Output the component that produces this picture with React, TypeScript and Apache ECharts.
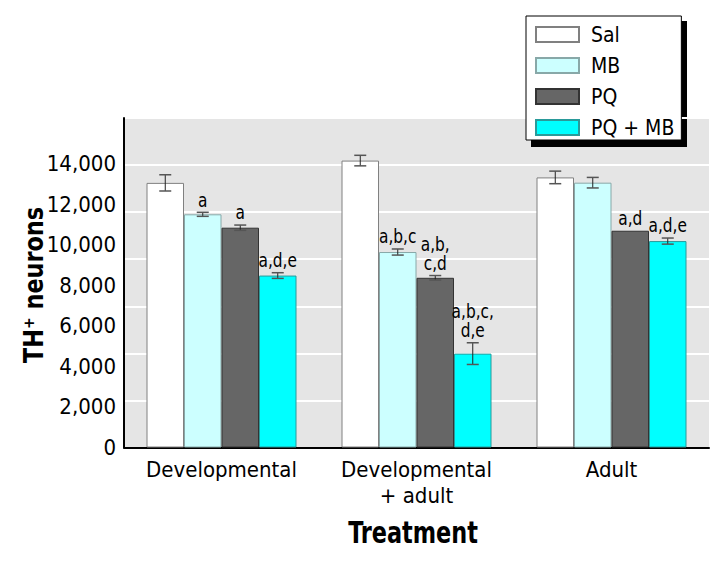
import React, { useEffect, useRef } from "react";
import * as echarts from "echarts";

const categories = ["Developmental", "Developmental\n+ adult", "Adult"];
const seriesNames = ["Sal", "MB", "PQ", "PQ + MB"];
const salValues = [13050, 14150, 13320];
const salErrors = [400, 260, 310];
const mbValues = [11500, 9640, 13060];
const mbErrors = [100, 150, 260];
const pqValues = [10840, 8370, 10690];
const pqErrors = [130, 110, 0];
const pqmbValues = [8480, 4630, 10180];
const pqmbErrors = [140, 535, 150];
const salLabels = ["", "", ""];
const mbLabels = ["a", "a,b,c", ""];
const pqLabels = ["a", "a,b,\nc,d", "a,d"];
const pqmbLabels = ["a,d,e", "a,b,c,\nd,e", "a,d,e"];
const yTicks = [0, 2000, 4000, 6000, 8000, 10000, 12000, 14000];

const FONT = '"Liberation Sans Narrow", "Arial Narrow", "DejaVu Sans Condensed", sans-serif';
const BAR_W = 37.5;

const allValues = [salValues, mbValues, pqValues, pqmbValues];
const allErrors = [salErrors, mbErrors, pqErrors, pqmbErrors];
const allLabels = [salLabels, mbLabels, pqLabels, pqmbLabels];
const fills = ["#ffffff", "#ccffff", "#666666", "#00ffff"];
const borders = ["#808080", "#88a8a8", "#333333", "#2a9a9a"];

export default function App() {
  const ref = useRef<HTMLDivElement>(null);
  useEffect(() => {
    if (!ref.current) return;
    const chart = echarts.init(ref.current, null, { renderer: "svg" });
    const barSeries = seriesNames.map((name, i) => ({
      name,
      type: "bar",
      barWidth: BAR_W,
      barGap: "0%",
      data: allValues[i],
      itemStyle: { color: fills[i], borderColor: borders[i], borderWidth: 1 },
      z: 2,
    }));
    const errSeries = seriesNames.map((name, s) => ({
      type: "custom",
      name: name + " err",
      z: 5,
      data: allValues[s].map((v, ci) => [ci, v, allErrors[s][ci]]),
      renderItem: (params: any, api: any) => {
        const ci = api.value(0);
        const v = api.value(1);
        const e = api.value(2);
        const base = api.coord([ci, v]);
        const x = base[0] + (s - 1.5) * BAR_W;
        const top = api.coord([ci, v + e])[1];
        const bot = api.coord([ci, v - e])[1];
        const children: any[] = [];
        if (e > 0) {
          children.push({ type: "line", shape: { x1: x, y1: top, x2: x, y2: bot }, style: { stroke: "#222", lineWidth: 1 } });
          children.push({ type: "line", shape: { x1: x - 6, y1: top, x2: x + 6, y2: top }, style: { stroke: "#555", lineWidth: 1.5 } });
          children.push({ type: "line", shape: { x1: x - 6, y1: bot, x2: x + 6, y2: bot }, style: { stroke: "#555", lineWidth: 1.5 } });
        }
        const lbl = allLabels[s][params.dataIndex];
        if (lbl) {
          children.push({
            type: "text",
            x,
            y: top - 3,
            scaleX: 0.9,
            style: {
              text: lbl,
              x: 0,
              y: 0,
              align: "center",
              verticalAlign: "bottom",
              fontFamily: FONT,
              fontSize: 19,
              lineHeight: 19,
              fill: "#000",
            },
          });
        }
        return { type: "group", children };
      },
    }));
    chart.setOption({
      animation: false,
      backgroundColor: "#ffffff",
      grid: {
        left: 124,
        right: 17,
        top: 118,
        bottom: 113.5,
        show: true,
        backgroundColor: "#e5e5e5",
        borderWidth: 0,
      },
      legend: {
        data: seriesNames,
        orient: "vertical",
        left: 526,
        top: 16,
        icon: "rect",
        itemWidth: 43,
        itemHeight: 15,
        itemGap: 10,
        padding: [8, 7, 2, 9],
        backgroundColor: "#ffffff",
        borderColor: "#000",
        borderWidth: 1,
        textStyle: { fontFamily: FONT, fontSize: 21, color: "#000", lineHeight: 21, padding: [0, 0, 0, 7] },
        selectedMode: false,
      },
      graphic: [
        { type: "rect", shape: { x: 531, y: 21, width: 156, height: 126 }, style: { fill: "#000" }, z: 0 },
        {
          type: "text",
          x: 413,
          y: 532,
          scaleX: 0.83,
          style: { text: "Treatment", fontFamily: FONT, fontWeight: "bold", fontSize: 30, fill: "#000", align: "center", verticalAlign: "middle" },
        },
        {
          type: "text",
          x: 34,
          y: 285,
          rotation: Math.PI / 2,
          scaleX: 0.92,
          style: { text: "TH\u207A neurons", fontFamily: FONT, fontWeight: "bold", fontSize: 27, fill: "#000", align: "center", verticalAlign: "middle" },
        },
      ],
      xAxis: {
        type: "category",
        data: categories,
        axisLine: { lineStyle: { color: "#000", width: 2 } },
        axisTick: { show: false },
        axisLabel: { interval: 0, fontFamily: FONT, fontSize: 22, color: "#000", lineHeight: 26, margin: 9 },
      },
      yAxis: [
        {
          type: "value",
          min: 0,
          max: 16250,
          interval: 2000,
          axisLine: { show: true, lineStyle: { color: "#000", width: 2 } },
          axisTick: { show: false },
          splitLine: { show: false },
          axisLabel: {
            fontFamily: FONT,
            fontSize: 22,
            color: "#000",
            margin: 8,
            formatter: (v: number) => (yTicks.indexOf(v) >= 0 ? v.toLocaleString("en-US") : ""),
          },
        },
        {
          type: "value",
          min: 0,
          max: 7,
          interval: 1,
          position: "right",
          axisLine: { show: false },
          axisTick: { show: false },
          axisLabel: { show: false },
          splitLine: { show: true, lineStyle: { color: "#ffffff", width: 2 } },
        },
      ],
      series: [...barSeries, ...errSeries],
    });
    return () => chart.dispose();
  }, []);
  return <div ref={ref} style={{ position: "fixed", left: 0, top: 0, width: 726, height: 561 }} />;
}
